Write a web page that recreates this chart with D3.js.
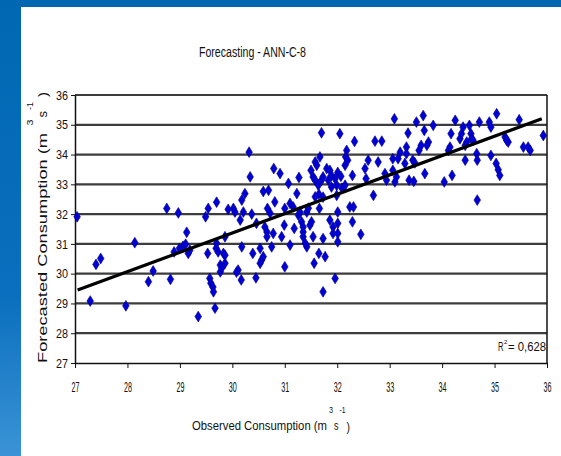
<!DOCTYPE html>
<html>
<head>
<meta charset="utf-8">
<script src="https://cdn.jsdelivr.net/npm/d3@7"></script>
<style>
  html, body { margin: 0; padding: 0; background: #fff; }
  svg { display: block; }
  text { font-family: "Liberation Sans Narrow", "Arial Narrow", "Liberation Sans", Arial, sans-serif; fill: #111; }
  .wide { font-family: "Liberation Sans", Arial, sans-serif; }
</style>
</head>
<body>
<svg id="chart" width="561" height="456"></svg>
<script>
// Observed vs. forecasted consumption (m3/s), ANN-C-8 model
const observed = [
  27.04, 27.29, 27.40, 27.49, 27.97, 28.14, 28.40, 28.49, 28.82, 28.75, 28.97, 28.89,
  28.99, 29.06, 29.13, 29.11, 29.16, 29.19, 29.35, 29.49, 29.54, 29.70, 29.53, 29.70,
  29.69, 29.73, 29.77, 29.77, 29.80, 29.86, 29.83, 29.57, 29.59, 29.63, 29.64, 29.67,
  30.32, 30.34, 30.24, 30.18, 30.59, 30.69, 30.79, 30.91, 31.07, 31.23, 31.27, 31.58,
  31.67, 31.70, 31.61, 31.50, 31.54, 31.58, 31.64, 31.70, 31.73, 31.80, 31.86, 31.89,
  31.83, 31.65, 31.73, 31.96, 31.99, 31.89, 32.05,
  29.92, 30.02, 30.05, 30.21, 30.15, 30.37, 30.46, 30.67, 30.72, 30.81, 31.00, 31.10,
  31.16, 31.26, 31.29, 31.42, 31.45, 31.66, 31.58, 30.62, 30.66, 30.66, 30.78, 30.94,
  30.99, 31.18, 31.32, 31.35, 31.35, 31.35, 31.48, 31.51, 31.54, 31.73, 31.86, 31.92,
  31.92, 32.01, 32.01, 32.01, 32.01, 32.29, 32.24, 32.31, 32.45, 32.69,
  29.86, 29.86, 30.18, 30.39, 30.56, 30.59, 30.53, 30.53, 30.75, 31.10, 31.00, 30.11,
  30.08, 30.17, 30.45, 31.42, 31.39, 31.65, 31.77, 31.56, 31.96, 31.73,
  32.18, 32.16, 32.20, 32.15, 32.01, 32.07, 32.29, 32.33, 32.09, 32.15, 31.99, 32.53,
  32.55, 32.59, 32.72, 32.85, 32.78, 32.91, 32.94, 33.06, 33.06, 33.10, 33.13, 33.09,
  33.20, 33.16, 33.29, 33.32, 33.32, 33.35, 33.37, 33.46, 33.44, 33.48, 33.51, 33.56,
  33.60, 33.64, 33.66, 33.67, 33.74, 33.71, 33.83, 34.04, 34.12, 34.15, 34.17, 34.25,
  34.19, 34.34, 34.37, 34.40, 34.44, 34.47, 34.44, 34.52, 34.55, 34.56, 34.59, 34.66,
  34.67, 34.67, 34.71, 34.90, 34.93, 34.93, 35.03, 35.07, 35.10, 35.04, 35.20, 35.23,
  35.26, 35.47, 35.55, 35.64, 35.68, 35.93
];
const forecasted = [
  31.91, 29.08, 30.31, 30.51, 28.92, 31.04, 29.73, 30.09, 29.81, 32.19, 32.04, 30.73,
  30.85, 30.92, 31.39, 30.99, 30.68, 30.79, 28.56, 31.91, 32.19, 32.40, 30.68, 31.02,
  30.85, 30.73, 30.29, 30.06, 30.19, 30.35, 30.68, 29.84, 29.68, 29.55, 29.39, 28.84,
  34.08, 33.25, 32.69, 32.47, 32.76, 32.80, 33.53, 33.36, 33.03, 32.69, 33.23, 33.75,
  33.92, 34.73, 33.64, 33.47, 33.25, 33.14, 32.97, 33.14, 33.25, 33.53, 33.47, 33.30,
  33.14, 32.67, 32.57, 33.19, 32.97, 32.91, 34.70,
  32.16, 32.19, 32.07, 32.07, 31.80, 32.00, 31.69, 32.19, 32.03, 32.41, 32.19, 32.36,
  32.24, 31.96, 32.07, 32.07, 32.20, 32.19, 32.58, 31.57, 31.40, 31.24, 31.35, 31.24,
  31.63, 31.52, 31.74, 31.57, 31.40, 31.24, 31.63, 31.74, 31.24, 31.18, 31.80, 31.57,
  31.35, 32.07, 31.69, 31.35, 31.07, 31.74, 32.24, 32.24, 31.32, 32.63,
  31.24, 30.62, 30.90, 30.68, 30.46, 30.57, 30.35, 30.85, 30.90, 30.96, 30.23, 30.12,
  30.05, 29.79, 29.86, 30.90, 31.02, 30.68, 30.57, 30.35, 29.84, 29.39,
  34.14, 33.92, 33.81, 33.64, 33.40, 33.27, 33.30, 34.44, 32.87, 32.97, 32.63, 33.53,
  33.19, 33.81, 34.45, 34.45, 33.75, 33.36, 33.14, 33.86, 33.47, 33.08, 33.25, 35.20,
  34.08, 33.86, 33.70, 34.25, 34.03, 34.72, 33.14, 33.10, 33.81, 33.72, 35.09, 34.14,
  34.31, 35.31, 34.81, 33.36, 34.42, 34.31, 34.98, 33.08, 34.14, 34.25, 34.70, 35.15,
  33.30, 34.53, 34.70, 34.92, 34.31, 34.42, 33.81, 34.98, 34.70, 34.53, 34.48, 34.03,
  33.81, 32.47, 35.09, 35.09, 34.92, 33.97, 33.70, 33.49, 33.30, 35.37, 34.59, 34.48,
  34.42, 35.17, 34.25, 34.25, 34.14, 34.64
];
const xTicks = [27, 28, 29, 30, 31, 32, 33, 34, 35, 36];
const yTicks = [27, 28, 29, 30, 31, 32, 33, 34, 35, 36];
// Linear trend line end points (observed, forecasted)
const trendObserved = [27.05, 35.9];
const trendForecasted = [29.45, 35.2];
const chartTitle = "Forecasting - ANN-C-8";
const rSquaredText = "= 0,628";

const svg = d3.select("#chart");
const x = d3.scaleLinear().domain([27, 36]).range([75, 547]);
const y = d3.scaleLinear().domain([27, 36]).range([363, 95]);

// slide background: blue header strip and left band
const defs = svg.append("defs");
const grad = defs.append("linearGradient").attr("id", "sideBand")
  .attr("x1", 0).attr("y1", 0).attr("x2", 0).attr("y2", 1);
grad.append("stop").attr("offset", "0%").attr("stop-color", "#0068b3");
grad.append("stop").attr("offset", "65%").attr("stop-color", "#0a6fbe");
grad.append("stop").attr("offset", "100%").attr("stop-color", "#3b93d6");
svg.append("rect").attr("width", 561).attr("height", 456).attr("fill", "#fff");
svg.append("rect").attr("width", 561).attr("height", 7).attr("fill", "#0068b3");
svg.append("rect").attr("width", 21).attr("height", 456).attr("fill", "url(#sideBand)");

// horizontal gridlines (including the top frame line)
svg.append("g").selectAll("line")
  .data(yTicks.filter(t => t > 27))
  .join("line")
  .attr("x1", x(27)).attr("x2", x(36))
  .attr("y1", d => y(d)).attr("y2", d => y(d))
  .attr("stroke", "#3d3d3d").attr("stroke-width", 2.2);

// right frame line
svg.append("line")
  .attr("x1", x(36)).attr("x2", x(36)).attr("y1", y(36)).attr("y2", y(27))
  .attr("stroke", "#111").attr("stroke-width", 1.5);

// axes
const xAxis = svg.append("g").attr("transform", `translate(0,${y(27)})`)
  .call(d3.axisBottom(x).tickValues(xTicks).tickSize(5).tickSizeOuter(0).tickFormat(d3.format("d")));
xAxis.select(".domain").attr("stroke", "#111").attr("stroke-width", 1.5);
xAxis.selectAll(".tick line").attr("stroke", "#111");
xAxis.selectAll(".tick text")
  .attr("y", 29).attr("dy", 0)
  .attr("font-size", 14)
  .attr("textLength", 8).attr("lengthAdjust", "spacingAndGlyphs")
  .attr("fill", "#111");

const yAxis = svg.append("g").attr("transform", `translate(${x(27)},0)`)
  .call(d3.axisLeft(y).tickValues(yTicks).tickSize(4).tickSizeOuter(0).tickPadding(3).tickFormat(d3.format("d")));
yAxis.select(".domain").attr("stroke", "#111").attr("stroke-width", 1.5);
yAxis.selectAll(".tick line").attr("stroke", "#111");
yAxis.selectAll(".tick text")
  .attr("font-size", 13)
  .attr("textLength", 12).attr("lengthAdjust", "spacingAndGlyphs")
  .attr("fill", "#111");

// scatter points as diamonds
const diamond = "M0,-5.4L3.3,0L0,5.4L-3.3,0Z";
svg.append("g").selectAll("path")
  .data(observed.map((o, i) => [o, forecasted[i]]))
  .join("path")
  .attr("d", diamond)
  .attr("transform", d => `translate(${x(d[0])},${y(d[1])})`)
  .attr("fill", "#0000d6")
  .attr("stroke", "#00008a")
  .attr("stroke-width", 0.6);

// trend line
svg.append("line")
  .attr("x1", x(trendObserved[0])).attr("y1", y(trendForecasted[0]))
  .attr("x2", x(trendObserved[1])).attr("y2", y(trendForecasted[1]))
  .attr("stroke", "#000").attr("stroke-width", 3.2);

// title
svg.append("text")
  .attr("x", 199).attr("y", 57)
  .attr("font-size", 14)
  .attr("textLength", 107).attr("lengthAdjust", "spacingAndGlyphs")
  .text(chartTitle);

// helper: one text element built from positioned runs
function runs(parent, parts, cls) {
  const t = parent.append("text");
  if (cls) t.attr("class", cls);
  parts.forEach(p => {
    const s = t.append("tspan").attr("x", p.x).attr("y", p.y)
      .attr("font-size", p.size).text(p.text);
    if (p.len) s.attr("textLength", p.len).attr("lengthAdjust", "spacingAndGlyphs");
  });
  return t;
}

// x axis title with superscripts
runs(svg, [
  { text: "Observed Consumption (m", x: 192, y: 429.5, size: 13.5, len: 135 },
  { text: "3", x: 329, y: 413, size: 9.5, len: 4 },
  { text: "s", x: 334, y: 429.5, size: 13.5, len: 4.5 },
  { text: "-1", x: 339.5, y: 413, size: 9.5, len: 6 },
  { text: ")", x: 346.5, y: 431, size: 13.5, len: 3.5 }
]);

// y axis title (rotated) with superscripts
const yt = svg.append("g").attr("transform", "translate(47,363) rotate(-90)");
runs(yt, [
  { text: "Forecasted Consumption (m", x: 0, y: 0, size: 12, len: 230 },
  { text: "3", x: 237.5, y: -14, size: 9, len: 6 },
  { text: "s", x: 245.5, y: 0, size: 12, len: 6.5 },
  { text: "-1", x: 253, y: -14, size: 9, len: 8 },
  { text: ")", x: 266, y: 0, size: 12, len: 5 }
], "wide");

// R-squared annotation
runs(svg, [
  { text: "R", x: 498, y: 351, size: 12.5, len: 5.5 },
  { text: "2", x: 504, y: 344, size: 6 },
  { text: rSquaredText, x: 508, y: 351, size: 12.5, len: 38 }
]);
</script>
</body>
</html>
